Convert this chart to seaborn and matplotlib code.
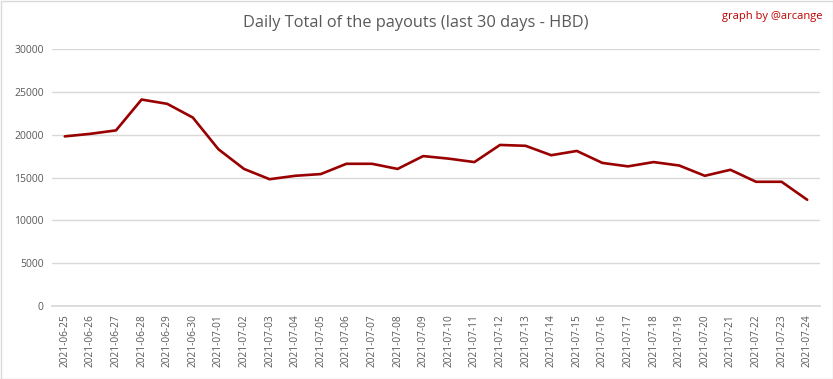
import matplotlib
matplotlib.use("Agg")
import matplotlib.pyplot as plt
import seaborn as sns
import pandas as pd

dates = ["2021-06-25", "2021-06-26", "2021-06-27", "2021-06-28", "2021-06-29", "2021-06-30",
         "2021-07-01", "2021-07-02", "2021-07-03", "2021-07-04", "2021-07-05", "2021-07-06",
         "2021-07-07", "2021-07-08", "2021-07-09", "2021-07-10", "2021-07-11", "2021-07-12",
         "2021-07-13", "2021-07-14", "2021-07-15", "2021-07-16", "2021-07-17", "2021-07-18",
         "2021-07-19", "2021-07-20", "2021-07-21", "2021-07-22", "2021-07-23", "2021-07-24"]
payouts = [19800, 20100, 20500, 24100, 23600, 22000, 18300, 16000, 14800, 15200, 15400, 16600,
           16600, 16000, 17500, 17200, 16800, 18800, 18700, 17600, 18100, 16700, 16300, 16800,
           16400, 15200, 15900, 14500, 14500, 12400]
yticks = [0, 5000, 10000, 15000, 20000, 25000, 30000]

sns.set_theme(style="white")
plt.rcParams['font.family'] = ['Open Sans', 'DejaVu Sans']

df = pd.DataFrame({"date": dates, "payout": payouts, "idx": range(len(dates))})

fig = plt.figure(figsize=(8.33, 3.79), dpi=100)
ax = fig.add_axes([52 / 833, 1 - 306 / 379, (820 - 52) / 833, (306 - 49) / 379])

sns.lineplot(data=df, x="idx", y="payout", ax=ax, color="#990000", linewidth=1.9)

ax.set_xlim(-0.5, len(dates) - 0.5)
ax.set_ylim(0, 30000)
ax.set_yticks(yticks)
ax.set_yticklabels([str(v) for v in yticks], fontsize=7.5, color="#595959")
ax.set_xticks(range(len(dates)))
ax.set_xticklabels(dates, rotation=90, fontsize=7.3, color="#595959")
ax.yaxis.grid(True, color="#d9d9d9", linewidth=1)
ax.xaxis.grid(False)
ax.set_xlabel("")
ax.set_ylabel("")
for s in ["top", "right", "left"]:
    ax.spines[s].set_visible(False)
ax.spines["bottom"].set_color("#d9d9d9")
ax.tick_params(axis="x", length=4, color="#d9d9d9", pad=2)
ax.tick_params(axis="y", length=0, pad=6)

fig.text(416 / 833, 1 - 23 / 379, "Daily Total of the payouts (last 30 days - HBD)",
         ha="center", va="center", fontsize=11.8, color="#595959")
fig.text(822 / 833, 1 - 16 / 379, "graph by @arcange", ha="right", va="center",
         fontsize=8, color="#c00000")

border = plt.Rectangle((0.5 / 833, 0.5 / 379), 1 - 1 / 833, 1 - 1 / 379, transform=fig.transFigure,
                       fill=False, edgecolor="#d9d9d9", linewidth=1)
fig.patches.append(border)

fig.savefig("out.png", dpi=100)
